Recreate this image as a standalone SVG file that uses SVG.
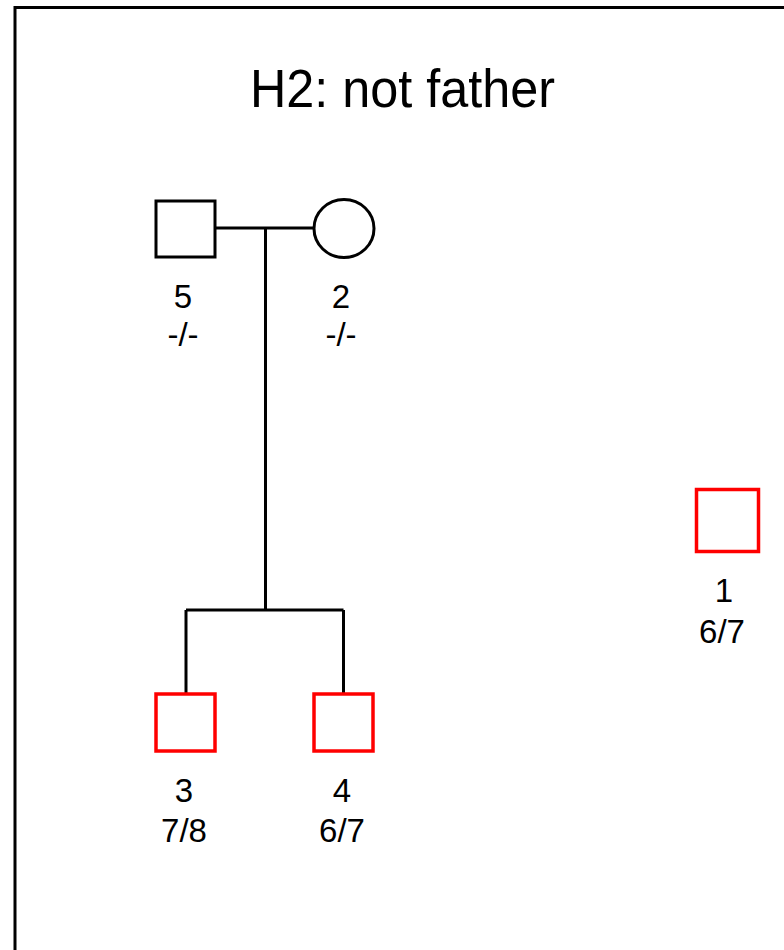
<svg xmlns="http://www.w3.org/2000/svg" width="784" height="950" viewBox="0 0 784 950">
<style>
.ln{stroke:#000;stroke-width:3;fill:none}
.nd{fill:#fff;stroke:#000;stroke-width:3}
.af{fill:#fff;stroke:#f00;stroke-width:3.5}
.lb{font-family:"Liberation Sans",Arial,sans-serif;font-size:33px;fill:#000;text-anchor:middle}
.tt{font-family:"Liberation Sans",Arial,sans-serif;font-size:53px;fill:#000}
</style>
<rect x="0" y="0" width="784" height="950" fill="#fff"/>
<path class="ln" d="M15,950 V7.5 H784"/>
<text class="tt" x="250" y="107" textLength="305" lengthAdjust="spacingAndGlyphs">H2: not father</text>
<g id="connectors">
<path class="ln" d="M216,228 H314"/>
<path class="ln" d="M265.5,228 V610"/>
<path class="ln" d="M186,610 H343.5"/>
<path class="ln" d="M186,610 V693"/>
<path class="ln" d="M343.5,610 V693"/>
</g>
<g id="n5">
<rect class="nd" x="156" y="201" width="59" height="56"/>
<text class="lb" x="183" y="308">5</text>
<text class="lb" x="183" y="346">-/-</text>
</g>
<g id="n2">
<ellipse class="nd" cx="344" cy="228.5" rx="30" ry="29"/>
<text class="lb" x="341" y="308">2</text>
<text class="lb" x="341" y="346">-/-</text>
</g>
<g id="n3">
<rect class="af" x="156" y="694" width="59" height="57"/>
<text class="lb" x="184" y="802">3</text>
<text class="lb" x="184" y="842">7/8</text>
</g>
<g id="n4">
<rect class="af" x="314" y="694" width="59" height="57"/>
<text class="lb" x="342" y="802">4</text>
<text class="lb" x="342" y="842">6/7</text>
</g>
<g id="n1">
<rect class="af" x="696.5" y="489.5" width="62" height="62"/>
<text class="lb" x="724" y="602">1</text>
<text class="lb" x="722" y="643">6/7</text>
</g>
</svg>
